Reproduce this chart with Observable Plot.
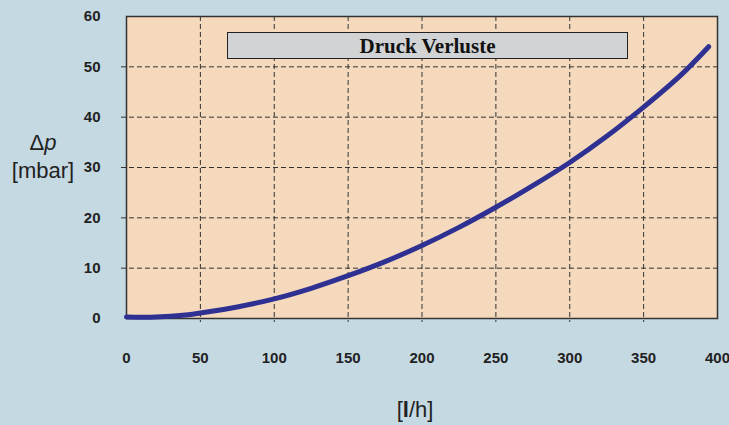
<!DOCTYPE html>
<html>
<head>
<meta charset="utf-8">
<script src="https://cdn.jsdelivr.net/npm/d3@7"></script>
<script src="https://cdn.jsdelivr.net/npm/@observablehq/plot@0.6"></script>
<style>
  html, body { margin: 0; padding: 0; background: #c5d9e2; }
  #wrap { position: relative; width: 729px; height: 425px; background: #c5d9e2; overflow: hidden; }
  #wrap svg { position: absolute; left: 0; top: 0; }
  #wrap svg text { font-size: 15px; font-weight: bold; }
  .ov { position: absolute; font-family: "Liberation Sans", Arial, sans-serif; color: #222; white-space: nowrap; }
  #titlebox { left: 227px; top: 32px; width: 399px; height: 25px; background: #d1d3d4; border: 1.5px solid #222;
    font-family: "Liberation Serif", "Times New Roman", serif; font-weight: bold; font-size: 21px; color: #111;
    text-align: center; line-height: 26px; }
  #ytitle { left: 0; top: 129px; width: 86px; text-align: center; font-size: 22px; line-height: 28px; }
  #xtitle { left: 365px; top: 396px; width: 100px; text-align: center; font-size: 22px; line-height: 28px; }
</style>
</head>
<body>
<div id="wrap"></div>
<script>
// Flow rate [l/h] and pressure loss [mbar]
const flow = [0, 20, 40, 50, 75, 100, 125, 150, 175, 200, 225, 250, 275, 300, 325, 350, 375, 394];
const dp   = [0.3, 0.3, 0.7, 1.1, 2.3, 3.9, 6.0, 8.5, 11.3, 14.5, 18.1, 22.1, 26.4, 31.0, 36.2, 42.0, 48.3, 54.0];
const xTicks = [0, 50, 100, 150, 200, 250, 300, 350, 400];
const yTicks = [0, 10, 20, 30, 40, 50, 60];
const xGrid = [50, 100, 150, 200, 250, 300, 350];
const yGrid = [10, 20, 30, 40, 50];
const title = "Druck Verluste";

const data = flow.map((q, i) => ({q, p: dp[i]}));

const chart = Plot.plot({
  width: 729,
  height: 425,
  marginLeft: 126,
  marginRight: 12,
  marginTop: 16,
  marginBottom: 107,
  style: {background: "transparent", fontFamily: "'Liberation Sans', Arial, sans-serif", fontSize: "15px", fontWeight: "bold", color: "#222"},
  x: {domain: [0, 400]},
  y: {domain: [0, 60]},
  marks: [
    Plot.frame({fill: "#f5d9bd", stroke: "none"}),
    Plot.ruleY(yGrid, {stroke: "#333", strokeWidth: 1, strokeDasharray: "5,3", insetLeft: -5}),
    Plot.ruleX(xGrid, {stroke: "#333", strokeWidth: 1, strokeDasharray: "5,3", insetBottom: -4}),
    Plot.frame({stroke: "#333", strokeWidth: 1.5}),
    Plot.axisX(xTicks, {tickSize: 0, tickPadding: 34, tickFormat: d => String(d), label: null, fill: "#222", fontSize: 15, fontWeight: "bold"}),
    Plot.axisY(yTicks, {tickSize: 0, tickPadding: 26, tickFormat: d => String(d), label: null, fill: "#222", fontSize: 15, fontWeight: "bold"}),
    Plot.line(data, {x: "q", y: "p", stroke: "#2e3192", strokeWidth: 5, curve: "catmull-rom"})
  ]
});

const wrap = document.getElementById("wrap");
wrap.appendChild(chart);

const tb = document.createElement("div");
tb.id = "titlebox"; tb.className = "ov"; tb.textContent = title;
wrap.appendChild(tb);

const yt = document.createElement("div");
yt.id = "ytitle"; yt.className = "ov";
yt.innerHTML = "&Delta;<i>p</i><br>[mbar]";
wrap.appendChild(yt);

const xt = document.createElement("div");
xt.id = "xtitle"; xt.className = "ov";
xt.innerHTML = "[<b>l</b>/h]";
wrap.appendChild(xt);
</script>
</body>
</html>
